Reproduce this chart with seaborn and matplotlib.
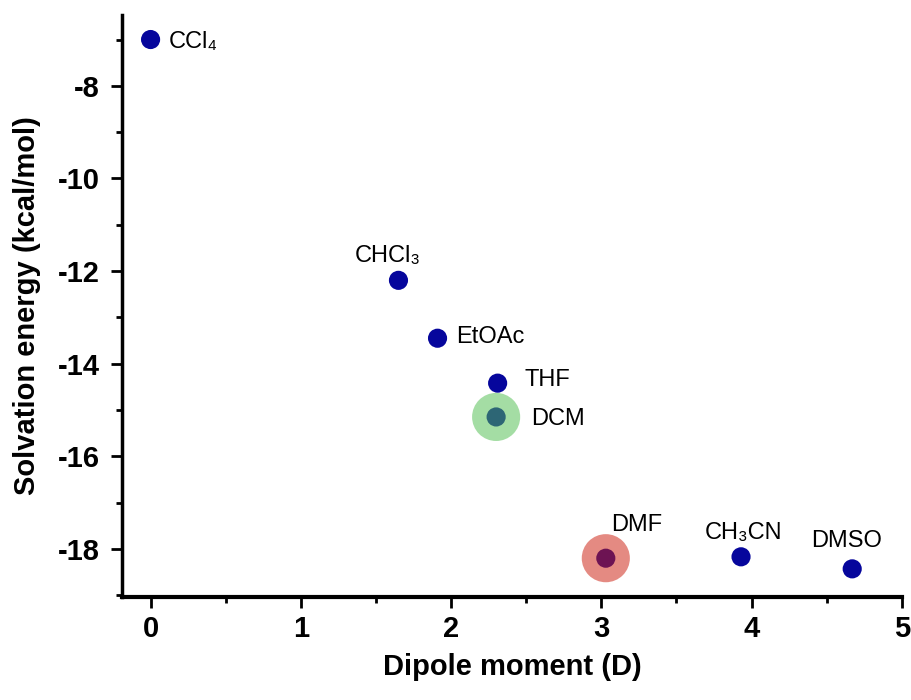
import matplotlib
matplotlib.use("Agg")
import matplotlib.pyplot as plt
import seaborn as sns
import pandas as pd
from matplotlib.ticker import MultipleLocator

# ---- data ----
solvents = ["CCl₄", "CHCl₃", "EtOAc", "THF", "DCM", "DMF", "CH₃CN", "DMSO"]
dipole = [0.0, 1.65, 1.91, 2.31, 2.30, 3.03, 3.93, 4.67]
energy = [-7.0, -12.2, -13.45, -14.42, -15.15, -18.2, -18.17, -18.43]
highlighted = ["DCM", "DMF"]
highlight_colors = ["#52bf52", "#cd2010"]

df = pd.DataFrame({"solvent": solvents, "dipole": dipole, "energy": energy})

sns.set_theme(style="ticks")
plt.rcParams["font.family"] = ["Liberation Sans", "DejaVu Sans"]
plt.rcParams["axes.unicode_minus"] = False
plt.rcParams["text.color"] = "black"
plt.rcParams["axes.labelcolor"] = "black"
plt.rcParams["xtick.color"] = "black"
plt.rcParams["ytick.color"] = "black"

fig = plt.figure(figsize=(9.12, 7.0), dpi=100)
ax = fig.add_axes([0.1338, 0.147, 0.855, 0.8316])

sns.scatterplot(data=df, x="dipole", y="energy", color="#06069c", s=190,
                edgecolor="none", ax=ax, zorder=3, clip_on=False)

hl = df[df["solvent"].isin(highlighted)]
sns.scatterplot(data=hl, x="dipole", y="energy", hue="solvent",
                palette=dict(zip(highlighted, highlight_colors)), s=1200,
                alpha=0.52, edgecolor="none", ax=ax, zorder=4, legend=False,
                clip_on=False)

# label offsets (points) : (dx, dy, ha)
offsets = {
    "CCl₄": (13, -6, "left"),
    "CHCl₃": (-7.6, 13.5, "center"),
    "EtOAc": (13.7, -3.6, "left"),
    "THF": (19.5, -2, "left"),
    "DCM": (25, -6, "left"),
    "DMF": (22.5, 19.5, "center"),
    "CH₃CN": (2, 12.7, "center"),
    "DMSO": (-4, 16, "center"),
}
for name, x, y in zip(solvents, dipole, energy):
    dx, dy, ha = offsets[name]
    ax.annotate(name, (x, y), xytext=(dx, dy), textcoords="offset points",
                ha=ha, va="baseline", fontsize=17, color="black", zorder=5)

ax.set_xlim(-0.19, 5.0)
ax.set_ylim(-19.04, -6.47)
ax.xaxis.set_major_locator(MultipleLocator(1))
ax.xaxis.set_minor_locator(MultipleLocator(0.5))
ax.yaxis.set_major_locator(MultipleLocator(2))
ax.yaxis.set_minor_locator(MultipleLocator(1))

for side in ["top", "right"]:
    ax.spines[side].set_visible(False)
ax.spines["left"].set_linewidth(2.5)
ax.spines["bottom"].set_linewidth(3.0)
for side in ["left", "bottom"]:
    ax.spines[side].set_color("black")

ax.tick_params(axis="both", which="major", direction="out", length=8,
               width=2.0, color="black", labelsize=21)
ax.tick_params(axis="x", which="major", pad=5)
ax.tick_params(axis="y", which="major", pad=8)
ax.tick_params(axis="both", which="minor", direction="out", length=4,
               width=2.0, color="black")
for lab in ax.get_xticklabels() + ax.get_yticklabels():
    lab.set_fontweight("bold")

ax.set_xlabel("Dipole moment (D)", fontsize=21, fontweight="bold")
ax.set_ylabel("Solvation energy (kcal/mol)", fontsize=21, fontweight="bold")
ax.xaxis.label.set_va("baseline")
ax.xaxis.set_label_coords(0.5, -0.134)
ax.yaxis.label.set_va("center")
ax.yaxis.set_label_coords(-0.122, 0.5)

fig.savefig("out.png", dpi=100)
